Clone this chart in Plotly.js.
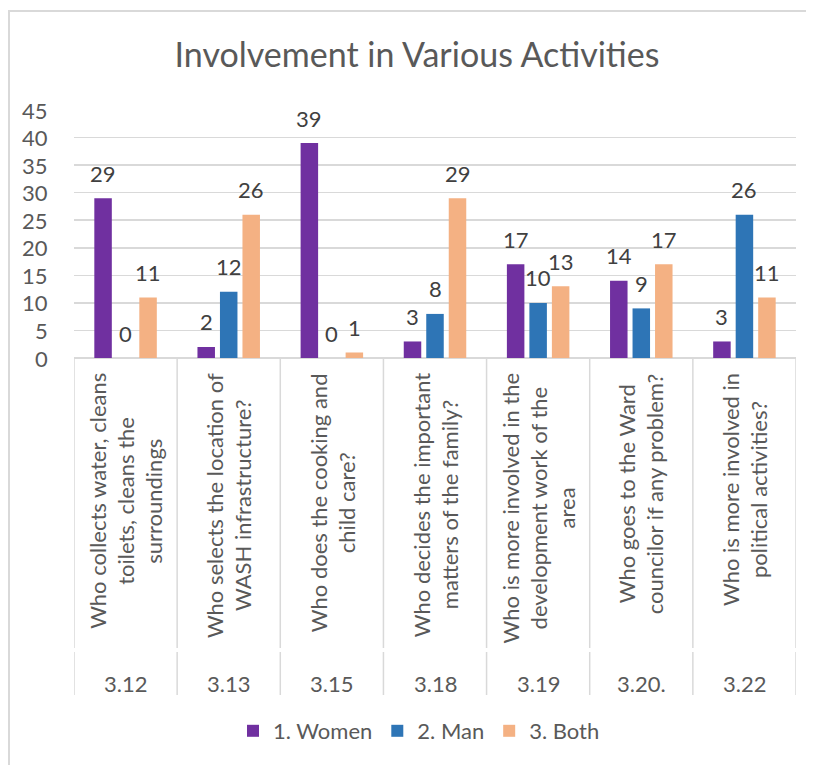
<!DOCTYPE html>
<html>
<head>
<meta charset="utf-8">
<script src="https://cdn.plot.ly/plotly-3.0.1.min.js"></script>
<style>
  html, body { margin: 0; padding: 0; background: #fff; overflow: hidden; }
  #chart { width: 814px; height: 765px; }
</style>
</head>
<body>
<div id="chart"></div>
<script>
// ---- data ----
const codes = ['3.12', '3.13', '3.15', '3.18', '3.19', '3.20.', '3.22'];
const questions = [
  ['Who collects water, cleans', 'toilets, cleans the', 'surroundings'],
  ['Who selects the location of', 'WASH infrastructure?'],
  ['Who does the cooking and', 'child care?'],
  ['Who decides the important', 'matters of the family?'],
  ['Who is more involved in the', 'development work of the', 'area'],
  ['Who goes to the Ward', 'councilor if any problem?'],
  ['Who is more involved in', 'political activities?']
];
const seriesNames = ['1. Women', '2. Man', '3. Both'];
const women = [29, 2, 39, 3, 17, 14, 3];
const man = [0, 12, 0, 8, 10, 9, 26];
const both = [11, 26, 1, 29, 13, 17, 11];
const yTicks = [0, 5, 10, 15, 20, 25, 30, 35, 40, 45];

// ---- styling / layout constants ----
const colors = ['#7030A0', '#2E75B6', '#F4B183'];
const FONT = 'Lato, "Open Sans", sans-serif';
const W = 814, H = 765;
const M = {l: 74, r: 18, t: 110, b: 407};
const plotW = W - M.l - M.r, plotH = H - M.t - M.b;
const px2xp = px => (px - M.l) / plotW;
const px2yp = py => 1 - (py - M.t) / plotH;
const catW = plotW / codes.length;
const slot = 22.5;
const FS = 22;
const lineGap = 28;
const grid = '#D9D9D9';

const series = [women, man, both];
const traces = series.map((vals, k) => ({
  type: 'bar',
  name: seriesNames[k],
  x: codes,
  y: vals,
  marker: {color: colors[k]},
  hoverinfo: 'x+y+name'
}));

const annotations = [];
// data labels (x given as category index so numeric-looking codes are not misread)
series.forEach((vals, k) => {
  vals.forEach((v, i) => {
    annotations.push({
      xref: 'x', yref: 'y', x: i, y: v,
      text: String(v), showarrow: false,
      xanchor: 'center', yanchor: 'middle',
      xshift: (k - 1) * slot, yshift: 25,
      font: {family: FONT, size: FS, color: '#404040'}
    });
  });
});

// y tick labels right-aligned at a fixed gap from the plot edge
yTicks.forEach(t => {
  annotations.push({
    xref: 'paper', yref: 'y', x: px2xp(50), y: t,
    text: String(t), showarrow: false,
    xanchor: 'right', yanchor: 'middle',
    font: {family: FONT, size: FS, color: '#595959'}
  });
});

// category text (rotated), aligned like Excel: longest line ends near the axis
const cv = document.createElement('canvas').getContext('2d');
cv.font = FS + 'px Lato';
questions.forEach((lines, i) => {
  const maxW = Math.max(...lines.map(s => cv.measureText(s).width));
  const centerPx = 373 + maxW / 2;
  lines.forEach((s, j) => {
    annotations.push({
      xref: 'x', yref: 'paper', x: i, y: px2yp(centerPx),
      text: s, showarrow: false, textangle: -90,
      xanchor: 'center', yanchor: 'middle',
      xshift: (j - (lines.length - 1) / 2) * lineGap,
      font: {family: FONT, size: FS, color: '#595959'}
    });
  });
  annotations.push({
    xref: 'x', yref: 'paper', x: i, y: px2yp(683),
    text: codes[i], showarrow: false,
    xanchor: 'center', yanchor: 'middle',
    font: {family: FONT, size: FS, color: '#595959'}
  });
});

// shapes: category separators and chart border (left and top edges only)
const shapes = [];
for (let i = 0; i <= codes.length; i++) {
  [[0, px2yp(648)], [px2yp(652), px2yp(695)]].forEach(([y0, y1]) => {
    shapes.push({
      type: 'line', xref: 'x', yref: 'paper',
      x0: i - 0.5, x1: i - 0.5, y0: y0, y1: y1,
      line: {color: grid, width: 1.5}
    });
  });
}
shapes.push({
  type: 'line', xref: 'paper', yref: 'paper',
  x0: px2xp(9), x1: px2xp(9), y0: px2yp(765), y1: px2yp(10),
  line: {color: grid, width: 2}
});
shapes.push({
  type: 'line', xref: 'paper', yref: 'paper',
  x0: px2xp(8), x1: px2xp(806), y0: px2yp(11), y1: px2yp(11),
  line: {color: grid, width: 2}
});

const layout = {
  width: W, height: H,
  margin: M,
  paper_bgcolor: '#fff', plot_bgcolor: '#fff',
  font: {family: FONT, color: '#595959', size: FS},
  title: {
    text: 'Involvement in Various Activities',
    font: {family: FONT, size: 34, color: '#595959'},
    x: 417 / W, xanchor: 'center',
    y: 1 - 55 / H, yanchor: 'middle', yref: 'container'
  },
  barmode: 'group',
  bargap: 1 - 3 * slot / catW,
  bargroupgap: 1 - 17.5 / slot,
  showlegend: true,
  legend: {
    orientation: 'h',
    x: px2xp(419), xanchor: 'center',
    y: px2yp(731), yanchor: 'middle',
    font: {family: FONT, size: FS, color: '#595959'},
    traceorder: 'normal'
  },
  xaxis: {
    type: 'category',
    categoryorder: 'array', categoryarray: codes,
    range: [-0.5, codes.length - 0.5],
    showticklabels: false, showgrid: false, zeroline: false,
    showline: false, ticks: '', fixedrange: true
  },
  yaxis: {
    range: [0, 45],
    tickvals: yTicks,
    showticklabels: false,
    showgrid: true, gridcolor: grid, gridwidth: 1.5,
    zeroline: true, zerolinecolor: grid, zerolinewidth: 1.5,
    showline: false, ticks: '',
    fixedrange: true
  },
  annotations: annotations,
  shapes: shapes
};

Plotly.newPlot('chart', traces, layout, {displayModeBar: false, staticPlot: true});
</script>
</body>
</html>
